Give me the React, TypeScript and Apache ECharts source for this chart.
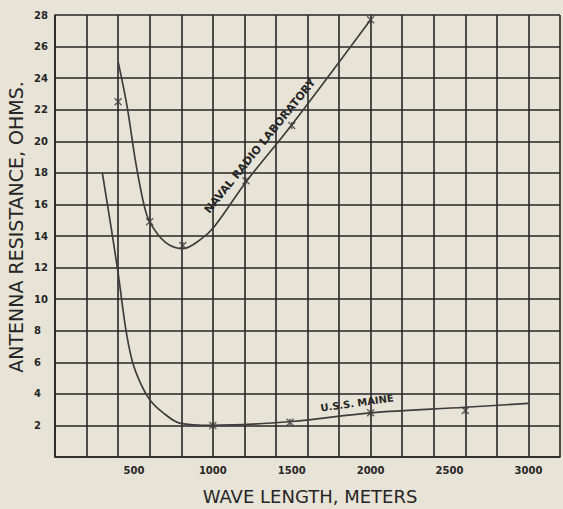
import React, { useEffect, useRef } from "react";
import * as echarts from "echarts";

// Naval Radio Laboratory curve (wave length m, resistance ohms)
const navalCurveX = [401, 457, 509, 561, 600, 700, 810, 925, 1010, 1216, 1497, 2000];
const navalCurveY = [25.0, 22.2, 18.8, 16.1, 14.9, 13.6, 13.2, 13.8, 14.6, 17.5, 21.0, 27.7];
const navalPointsX = [400, 600, 810, 1210, 1500, 2000];
const navalPointsY = [22.5, 14.9, 13.4, 17.5, 21.0, 27.7];

// U.S.S. Maine curve
const maineCurveX = [300, 395, 447, 489, 541, 603, 686, 790, 1000, 1500, 2000, 2600, 3000];
const maineCurveY = [18.0, 12.0, 8.2, 6.1, 4.7, 3.6, 2.8, 2.15, 2.0, 2.25, 2.8, 3.15, 3.4];
const mainePointsX = [1000, 1490, 2000, 2600];
const mainePointsY = [2.0, 2.2, 2.8, 2.95];

const xLabelValues = [500, 1000, 1500, 2000, 2500, 3000];
const yLabelValues = [2, 4, 6, 8, 10, 12, 14, 16, 18, 20, 22, 24, 26, 28];

const xTitle = "WAVE LENGTH, METERS";
const yTitle = "ANTENNA RESISTANCE, OHMS.";
const navalLabel = "NAVAL RADIO LABORATORY";
const maineLabel = "U.S.S. MAINE";

const zip = (xs: number[], ys: number[]) => xs.map((x, i) => [x, ys[i]]);

const BG = "#e7e3d6";
const INK = "#262626";
const CURVE = "#3d3d3d";
const FONT = "DejaVu Sans";

export default function App() {
  const ref = useRef<HTMLDivElement>(null);
  useEffect(() => {
    if (!ref.current) return;
    const chart = echarts.init(ref.current, null, { renderer: "svg" });
    const gridLine = { color: INK, width: 1.6 };
    const markerSymbol = "path://M0,0L10,10M10,0L0,10M5,0L5,10";
    chart.setOption({
      animation: false,
      backgroundColor: BG,
      grid: { left: 55, top: 15, width: 513, height: 442 },
      xAxis: [
        {
          type: "value",
          min: 0,
          max: 3200,
          interval: 200,
          axisLine: { show: true, lineStyle: gridLine },
          axisTick: { show: false },
          axisLabel: { show: false },
          splitLine: { show: true, lineStyle: gridLine },
        },
        {
          type: "value",
          min: 0,
          max: 3200,
          interval: 500,
          position: "bottom",
          axisLine: { show: false },
          axisTick: { show: false },
          splitLine: { show: false },
          axisLabel: {
            margin: 8,
            color: INK,
            fontFamily: FONT,
            fontSize: 10,
            fontWeight: "bold",
            formatter: (v: number) => (xLabelValues.includes(v) ? String(v) : ""),
          },
        },
      ],
      yAxis: {
        type: "value",
        min: 0,
        max: 28,
        interval: 2,
        axisLine: { show: true, lineStyle: gridLine },
        axisTick: { show: false },
        splitLine: { show: true, lineStyle: gridLine },
        axisLabel: {
          align: "left",
          margin: 21,
          color: INK,
          fontFamily: FONT,
          fontSize: 10,
          fontWeight: "bold",
          formatter: (v: number) => (yLabelValues.includes(v) ? String(v) : ""),
        },
      },
      series: [
        {
          name: "Naval Radio Laboratory",
          type: "line",
          data: zip(navalCurveX, navalCurveY),
          smooth: 0.35,
          showSymbol: false,
          lineStyle: { color: CURVE, width: 1.7 },
          z: 5,
        },
        {
          name: "U.S.S. Maine",
          type: "line",
          data: zip(maineCurveX, maineCurveY),
          smooth: 0.35,
          showSymbol: false,
          lineStyle: { color: CURVE, width: 1.7 },
          z: 5,
        },
        {
          type: "scatter",
          data: zip(navalPointsX, navalPointsY),
          symbol: markerSymbol,
          symbolSize: 7,
          itemStyle: { color: "none", borderColor: CURVE, borderWidth: 1.4 },
          z: 6,
        },
        {
          type: "scatter",
          data: zip(mainePointsX, mainePointsY),
          symbol: markerSymbol,
          symbolSize: 7,
          itemStyle: { color: "none", borderColor: CURVE, borderWidth: 1.4 },
          z: 6,
        },
      ],
      graphic: [
        {
          type: "text",
          x: 16,
          y: 227,
          rotation: Math.PI / 2,
          style: {
            text: yTitle,
            fill: INK,
            font: `19px "${FONT}"`,
            align: "center",
            verticalAlign: "middle",
          },
        },
        {
          type: "text",
          x: 310,
          y: 496,
          style: {
            text: xTitle,
            fill: INK,
            font: `18px "${FONT}"`,
            align: "center",
            verticalAlign: "middle",
          },
        },
        {
          type: "text",
          x: 260,
          y: 146,
          rotation: (51 * Math.PI) / 180,
          style: {
            text: navalLabel,
            fill: INK,
            font: `bold 11px "${FONT}"`,
            align: "center",
            verticalAlign: "middle",
          },
          z: 10,
        },
        {
          type: "text",
          x: 357,
          y: 403,
          rotation: (8 * Math.PI) / 180,
          style: {
            text: maineLabel,
            fill: INK,
            font: `bold 10px "${FONT}"`,
            align: "center",
            verticalAlign: "middle",
          },
          z: 10,
        },
      ],
    });
    return () => chart.dispose();
  }, []);
  return (
    <div
      ref={ref}
      style={{ position: "fixed", left: 0, top: 0, width: 563, height: 509, background: BG }}
    />
  );
}
